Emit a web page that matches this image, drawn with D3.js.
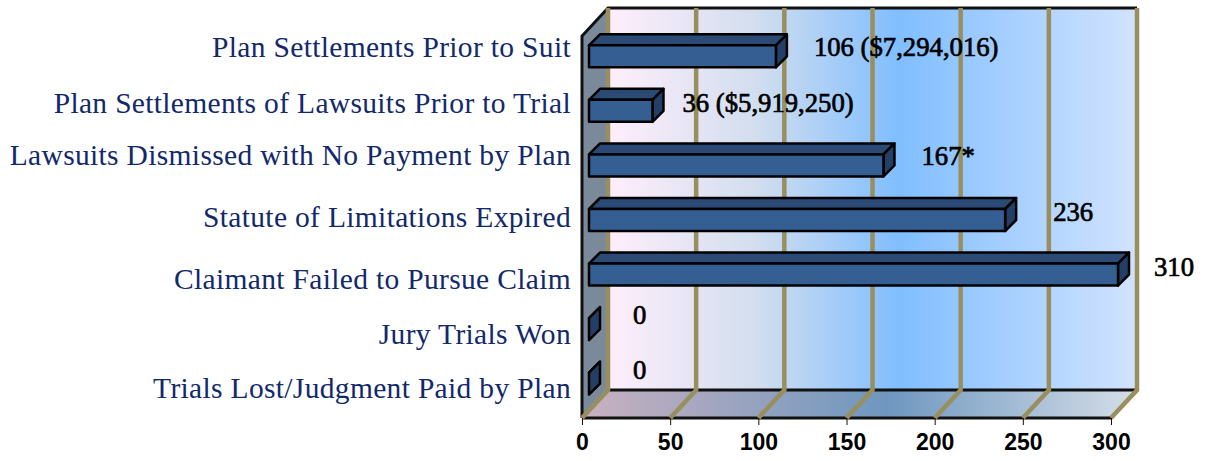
<!DOCTYPE html>
<html>
<head>
<meta charset="utf-8">
<script src="https://cdn.jsdelivr.net/npm/d3@7"></script>
<style>
  html, body { margin: 0; padding: 0; background: #fff; }
  svg { display: block; }
  .cat { font-family: "Liberation Serif", serif; font-size: 29.5px; letter-spacing: 0.33px; fill: #12296B; }
  .val { font-family: "Liberation Serif", serif; font-size: 26.7px; fill: #000; stroke: #000; stroke-width: 0.7px; }
  .x-axis text { font-family: "Liberation Sans", sans-serif; font-size: 23px; font-weight: bold; fill: #000; }
</style>
</head>
<body>
<div id="chart"></div>
<script>
const categories = [
  "Plan Settlements Prior to Suit",
  "Plan Settlements of Lawsuits Prior to Trial",
  "Lawsuits Dismissed with No Payment by Plan",
  "Statute of Limitations Expired",
  "Claimant Failed to Pursue Claim",
  "Jury Trials Won",
  "Trials Lost/Judgment Paid by Plan"
];
const counts = [106, 36, 167, 236, 310, 0, 0];
const valueLabels = ["106 ($7,294,016)", "36 ($5,919,250)", "167*", "236", "310", "0", "0"];
const xTicks = [0, 50, 100, 150, 200, 250, 300];

// hand placed in the original, so nudged per row
const catNudge = [-9, -8, -10, -3, 5, 5, 5];
const valNudgeX = [38, 30, 38, 48, 36, 44, 44];
const valNudgeY = [-9, -8, -9, -8, -7, -14, -14];

const width = 1207, height = 461;
const plot = { left: 582, right: 1111, top: 36, bottom: 418 };
const depth = { x: 26, y: 28 };
const barDepth = 11, barInset = 7, barH = 22;

const x = d3.scaleLinear().domain([0, 300]).range([plot.left, plot.right]).clamp(true);
const y = d3.scaleBand().domain(categories).range([plot.top - barInset, plot.bottom - barInset]);

const svg = d3.select("#chart").append("svg").attr("width", width).attr("height", height);
const defs = svg.append("defs");

function gradient(id, stops, x2, y2) {
  const g = defs.append("linearGradient").attr("id", id)
    .attr("x1", 0).attr("y1", 0).attr("x2", x2).attr("y2", y2);
  stops.forEach(([o, c]) => g.append("stop").attr("offset", o).attr("stop-color", c));
}
gradient("wallFill", [[0, "#FFEEFB"], [0.28, "#D2DEEF"], [0.55, "#80BEFF"], [1, "#D2E3FF"]], 1, 0);
gradient("floorFill", [[0, "#C9B1C0"], [0.55, "#6E97BF"], [1, "#D5DEE8"]], 1, 0);

const poly = (pts) => pts.map((p) => p.join(",")).join(" ");

// walls
svg.append("polygon")
  .attr("points", poly([[plot.left, plot.top], [plot.left + depth.x, plot.top - depth.y],
    [plot.left + depth.x, plot.bottom - depth.y], [plot.left, plot.bottom]]))
  .attr("fill", "#7B8A9B");
svg.append("rect")
  .attr("x", plot.left + depth.x).attr("y", plot.top - depth.y)
  .attr("width", plot.right - plot.left).attr("height", plot.bottom - plot.top)
  .attr("fill", "url(#wallFill)");
svg.append("polygon")
  .attr("points", poly([[plot.left, plot.bottom], [plot.left + depth.x, plot.bottom - depth.y],
    [plot.right + depth.x, plot.bottom - depth.y], [plot.right, plot.bottom]]))
  .attr("fill", "url(#floorFill)");

// black edges
const edge = svg.append("g").attr("stroke", "#111").attr("stroke-width", 3).attr("fill", "none");
edge.append("polyline").attr("points", poly([[plot.left, plot.bottom], [plot.left, plot.top],
  [plot.left + depth.x, plot.top - depth.y], [plot.right + depth.x, plot.top - depth.y]]));
edge.append("line").attr("x1", plot.left + depth.x).attr("x2", plot.right + depth.x)
  .attr("y1", plot.bottom - depth.y).attr("y2", plot.bottom - depth.y);
edge.append("line").attr("x1", plot.left).attr("x2", plot.right)
  .attr("y1", plot.bottom).attr("y2", plot.bottom);

// grid, runs up the back wall and forward across the floor
svg.append("g").selectAll("polyline").data(xTicks).join("polyline")
  .attr("points", (d) => poly([[x(d) + depth.x, plot.top - depth.y],
    [x(d) + depth.x, plot.bottom - depth.y], [x(d), plot.bottom]]))
  .attr("fill", "none").attr("stroke", "#998F5E").attr("stroke-width", 4.5);

// axis
const axis = svg.append("g").attr("class", "x-axis")
  .attr("transform", `translate(0, ${plot.bottom})`)
  .call(d3.axisBottom(x).tickValues(xTicks).tickSize(7).tickPadding(9));
axis.select(".domain").remove();
axis.selectAll("line").attr("stroke", "#111").attr("stroke-width", 1);

// bars
const bars = svg.append("g").selectAll("g").data(categories).join("g")
  .attr("stroke", "#000").attr("stroke-width", 2.5).attr("stroke-linejoin", "round");
const x0 = x(0) + barInset;
const barEnd = (i) => x(counts[i]) + barInset;
const barTop = (c) => y(c) + y.bandwidth() / 2 - barH / 2;

bars.append("polygon").attr("fill", "#2B4A76")
  .attr("points", (c, i) => poly([[x0, barTop(c)], [x0 + barDepth, barTop(c) - barDepth],
    [barEnd(i) + barDepth, barTop(c) - barDepth], [barEnd(i), barTop(c)]]));
bars.append("polygon").attr("fill", "#233F66")
  .attr("points", (c, i) => poly([[barEnd(i), barTop(c)], [barEnd(i) + barDepth, barTop(c) - barDepth],
    [barEnd(i) + barDepth, barTop(c) + barH - barDepth], [barEnd(i), barTop(c) + barH]]));
bars.append("rect").attr("fill", "#355F93")
  .attr("x", x0).attr("y", (c) => barTop(c))
  .attr("width", (c, i) => barEnd(i) - x0).attr("height", barH);

// labels
svg.append("g").selectAll("text").data(categories).join("text")
  .attr("class", "cat")
  .attr("x", 571)
  .attr("y", (c, i) => y(c) + y.bandwidth() / 2 + catNudge[i])
  .attr("dy", "0.33em")
  .attr("text-anchor", "end")
  .text((c) => c);

svg.append("g").selectAll("text").data(valueLabels).join("text")
  .attr("class", "val")
  .attr("x", (d, i) => barEnd(i) + valNudgeX[i])
  .attr("y", (d, i) => y(categories[i]) + y.bandwidth() / 2 + valNudgeY[i])
  .attr("dy", "0.33em")
  .text((d) => d);
</script>
</body>
</html>
